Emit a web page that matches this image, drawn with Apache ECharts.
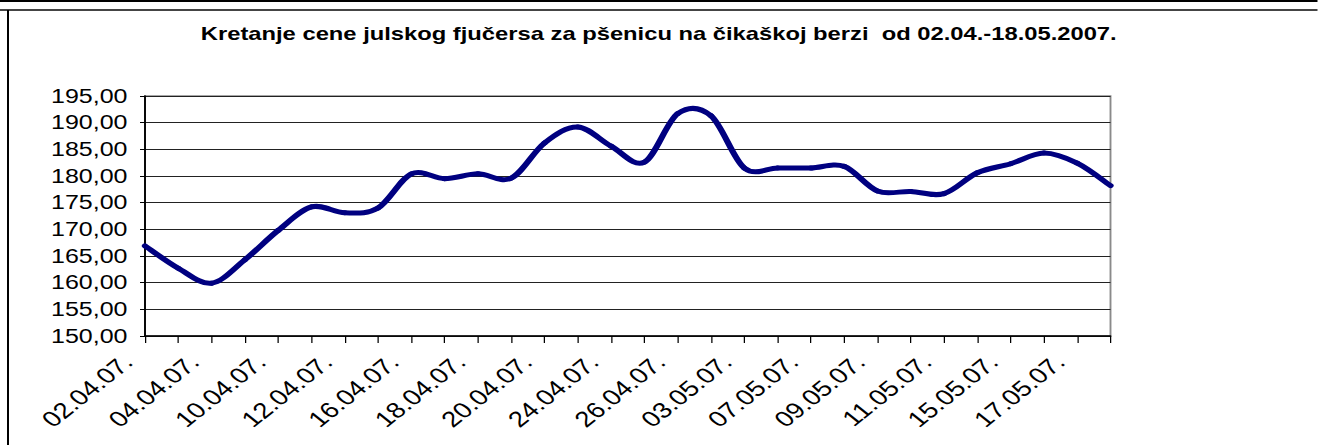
<!DOCTYPE html>
<html>
<head>
<meta charset="utf-8">
<script src="https://cdn.jsdelivr.net/npm/echarts@6/dist/echarts.min.js"></script>
<style>
  html, body { margin: 0; padding: 0; background: #fff; overflow: hidden; }
  #wrap { width: 1318px; height: 445px; overflow: hidden; position: relative; }
  #chart { width: 1054.4px; height: 445px; transform: scaleX(1.25); transform-origin: 0 0; }
</style>
</head>
<body>
<div id="wrap"><div id="chart"></div></div>
<script>
const titleText = 'Kretanje cene julskog fjučersa za pšenicu na čikaškoj berzi  od 02.04.-18.05.2007.';
const categories = [
  '02.04.07.', '03.04.07.', '04.04.07.', '05.04.07.', '10.04.07.', '11.04.07.',
  '12.04.07.', '13.04.07.', '16.04.07.', '17.04.07.', '18.04.07.', '19.04.07.',
  '20.04.07.', '23.04.07.', '24.04.07.', '25.04.07.', '26.04.07.', '27.04.07.',
  '03.05.07.', '04.05.07.', '07.05.07.', '08.05.07.', '09.05.07.', '10.05.07.',
  '11.05.07.', '14.05.07.', '15.05.07.', '16.05.07.', '17.05.07.', '18.05.07.'
];
const prices = [
  166.9, 162.7, 159.9, 164.3, 169.8, 174.2, 173.1, 174.0, 180.4, 179.5,
  180.4, 179.6, 186.2, 189.2, 185.6, 182.6, 191.7, 191.3, 181.5, 181.5,
  181.5, 181.8, 177.2, 177.1, 176.7, 180.6, 182.3, 184.3, 182.4, 178.2
];
const yMin = 150, yMax = 195, yStep = 5;

const FONT = "'Liberation Sans', Arial, sans-serif";
const LINE_COLOR = '#000080';

// Smooth curve (uniform Catmull-Rom / Bezier, like a spreadsheet's smoothed line)
// drawn through the points that the cartesian axes map for each data value.
function renderCurve(params, api) {
  if (params.dataIndex !== 0) return null;
  const pts = prices.map((v, i) => api.coord([i, v]));
  const n = pts.length;
  const children = [];
  for (let i = 0; i < n - 1; i++) {
    const p0 = pts[Math.max(i - 1, 0)];
    const p1 = pts[i];
    const p2 = pts[i + 1];
    const p3 = pts[Math.min(i + 2, n - 1)];
    children.push({
      type: 'bezierCurve',
      shape: {
        x1: p1[0], y1: p1[1],
        cpx1: p1[0] + (p2[0] - p0[0]) / 6, cpy1: p1[1] + (p2[1] - p0[1]) / 6,
        cpx2: p2[0] - (p3[0] - p1[0]) / 6, cpy2: p2[1] - (p3[1] - p1[1]) / 6,
        x2: p2[0], y2: p2[1]
      },
      style: { stroke: LINE_COLOR, lineWidth: 5, fill: null, lineCap: 'round', lineJoin: 'round' }
    });
  }
  return { type: 'group', children: children };
}

const chart = echarts.init(document.getElementById('chart'), null, { renderer: 'svg' });
chart.setOption({
  animation: false,
  backgroundColor: '#fff',
  title: {
    text: titleText,
    left: 'center',
    top: 19,
    textStyle: { fontFamily: FONT, fontSize: 19, fontWeight: 'bold', color: '#000' }
  },
  graphic: [
    { type: 'line', shape: { x1: 0, y1: 1, x2: 1060, y2: 1 }, style: { stroke: '#000', lineWidth: 2 } },
    { type: 'line', shape: { x1: 0, y1: 10, x2: 1060, y2: 10 }, style: { stroke: '#444', lineWidth: 2 } },
    { type: 'line', shape: { x1: 6.4, y1: 10, x2: 6.4, y2: 450 }, style: { stroke: '#000', lineWidth: 1.6 } }
  ],
  grid: {
    left: 116, right: 165.6, top: 96, bottom: 109,
    show: true, borderColor: '#8a8a8a', borderWidth: 1.5, backgroundColor: '#fff'
  },
  xAxis: {
    type: 'category',
    data: categories,
    boundaryGap: false,
    axisLine: { lineStyle: { color: '#000', width: 1.5 } },
    axisTick: { show: true, interval: 0, length: 7, lineStyle: { color: '#000', width: 1 } },
    axisLabel: {
      interval: 1, rotate: 45, margin: 8, padding: [0, 20, 0, 0],
      fontFamily: FONT, fontSize: 22, color: '#000'
    },
    splitLine: { show: false }
  },
  yAxis: {
    type: 'value',
    min: yMin, max: yMax, interval: yStep,
    axisLine: { show: true, lineStyle: { color: '#000', width: 1.5 } },
    axisTick: { show: true, length: 4, lineStyle: { color: '#000' } },
    axisLabel: {
      margin: 14, fontFamily: FONT, fontSize: 20, color: '#000',
      formatter: v => v.toFixed(2).replace('.', ',')
    },
    splitLine: { show: true, lineStyle: { color: '#222', width: 1 } }
  },
  series: [{
    type: 'custom',
    coordinateSystem: 'cartesian2d',
    encode: { x: 0, y: 1 },
    data: prices.map((v, i) => [i, v]),
    renderItem: renderCurve,
    clip: false,
    silent: true
  }]
});
</script>
</body>
</html>
